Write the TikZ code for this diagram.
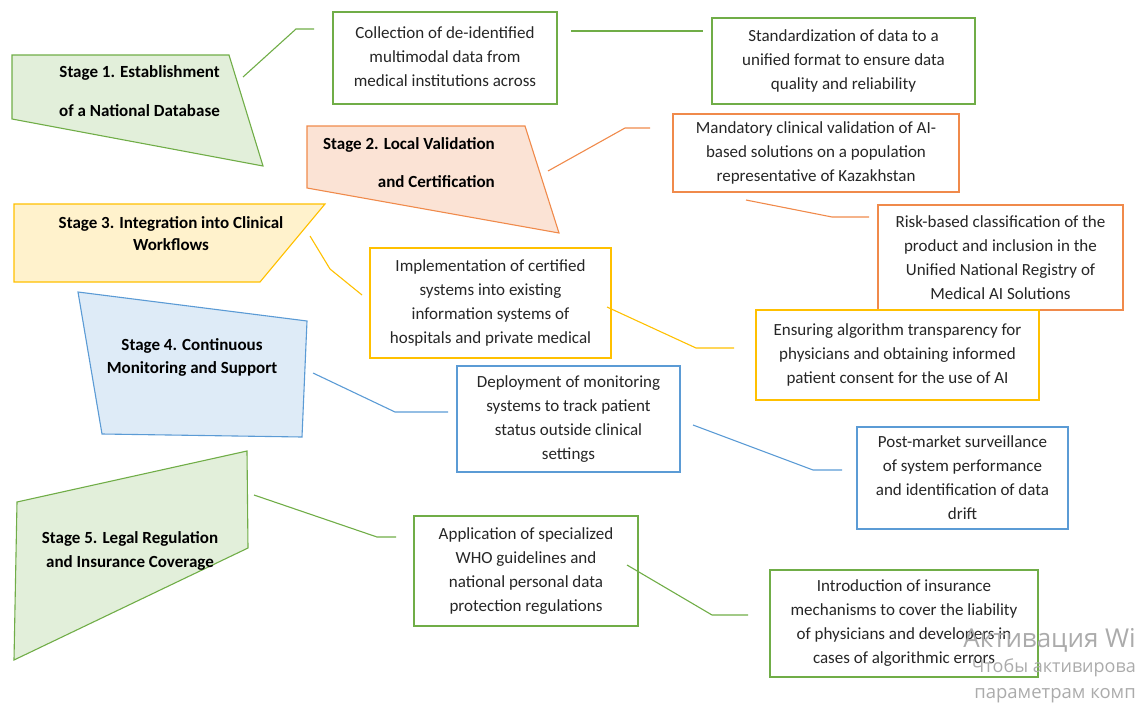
\documentclass[tikz,border=0pt]{standalone}
\usepackage{fontspec}
\setmainfont{Carlito}
\newfontfamily\wmfont{Open Sans}
\definecolor{grn}{HTML}{70AD47}
\definecolor{grnfill}{HTML}{E2EFDA}
\definecolor{org}{HTML}{F08A4B}
\definecolor{orgfill}{HTML}{FBE3D5}
\definecolor{yel}{HTML}{FFC000}
\definecolor{yelfill}{HTML}{FFF2CC}
\definecolor{blu}{HTML}{5B9BD5}
\definecolor{blufill}{HTML}{DEEBF7}
\tikzset{
  stagetext/.style={text=black, inner sep=0pt},
  stageshape/.style={line width=1.1pt, line join=miter},
  infobox/.style={draw, line width=1.1pt, fill=white, inner sep=0pt,
    align=center, text=black!85, font=\fontsize{17}{24}\selectfont},
  link/.style={line width=1.1pt}
}
\begin{document}
\begin{tikzpicture}[x=1pt,y=-1pt]
      \useasboundingbox (0,0) rectangle (1137,704);
      % stages
      \filldraw[stageshape, draw=grn, fill=grnfill] (12,55) -- (229,55) -- (263,166) -- (12,119) -- cycle;
      \filldraw[stageshape, draw=org, fill=orgfill] (307,126) -- (525,126) -- (559,233) -- (307,188) -- cycle;
      \filldraw[stageshape, draw=yel, fill=yelfill] (14,204) -- (325,204) -- (260,282) -- (14,282) -- cycle;
      \filldraw[stageshape, draw=blu, fill=blufill] (78,292) -- (307,321) -- (302,437) -- (102,434) -- cycle;
      \filldraw[stageshape, draw=grn, fill=grnfill] (17,502) -- (247,451) -- (248,548) -- (14,660) -- cycle;
      \path
        (220,91) node[stagetext, anchor=east, align=right, font=\bfseries\fontsize{17}{39}\selectfont] (s1){Stage 1. Establishment\\of a National Database}
        (495,162.5) node[stagetext, anchor=east, align=right, font=\bfseries\fontsize{17}{38}\selectfont] (s2){Stage 2. Local Validation\\and Certification}
        (171,233.5) node[stagetext, align=center, font=\bfseries\fontsize{17}{22}\selectfont] (s3){Stage 3. Integration into Clinical\\Workflows}
        (192,357) node[stagetext, align=center, font=\bfseries\fontsize{17}{23}\selectfont] (s4){Stage 4. Continuous\\Monitoring and Support}
        (130,551) node[stagetext, align=center, font=\bfseries\fontsize{17}{24}\selectfont] (s5){Stage 5. Legal Regulation\\and Insurance Coverage};
      % boxes
      \path
        (445,58) node[infobox, draw=grn, minimum width=224pt, minimum height=92pt] (coll){\raisebox{2.5pt}{Collection of de-identified}\\\raisebox{2.5pt}{multimodal data from}\\\raisebox{2.5pt}{medical institutions across}}
        (843.5,61) node[infobox, draw=grn, minimum width=263pt, minimum height=86pt] (std){Standardization of data to a\\unified format to ensure data\\quality and reliability}
        (816,153) node[infobox, draw=org, minimum width=286pt, minimum height=78pt] (mand){Mandatory clinical validation of AI-\\based solutions on a population\\representative of Kazakhstan}
        (1000.5,257.5) node[infobox, draw=org, minimum width=245pt, minimum height=105pt] (risk){Risk-based classification of the\\product and inclusion in the\\Unified National Registry of\\Medical AI Solutions}
        (490.5,303) node[infobox, draw=yel, minimum width=241pt, minimum height=110pt] (impl){Implementation of certified\\systems into existing\\information systems of\\hospitals and private medical}
        (897.5,355) node[infobox, draw=yel, minimum width=283pt, minimum height=90pt] (ens){Ensuring algorithm transparency for\\physicians and obtaining informed\\patient consent for the use of AI}
        (568.5,419) node[infobox, draw=blu, minimum width=223pt, minimum height=106pt] (dep){Deployment of monitoring\\systems to track patient\\status outside clinical\\settings}
        (962.5,478) node[infobox, draw=blu, minimum width=211pt, minimum height=102pt] (post){Post-market surveillance\\of system performance\\and identification of data\\drift}
        (526,571) node[infobox, draw=grn, minimum width=224pt, minimum height=110pt] (appl){Application of specialized\\WHO guidelines and\\national personal data\\protection regulations}
        (904,623.5) node[infobox, draw=grn, minimum width=268pt, minimum height=107pt] (intro){Introduction of insurance\\mechanisms to cover the liability\\of physicians and developers in\\cases of algorithmic errors};
      \path
        (243,77) coordinate (s1o)   (296,29) coordinate (s1k)   (314,29) coordinate (colli)
        (571,31) coordinate (collo) (703,31) coordinate (stdi)
        (548,171) coordinate (s2o)  (625,128) coordinate (s2k)  (650,128) coordinate (mandi)
        (746,200) coordinate (mando) (832,217) coordinate (mandk) (869,217) coordinate (riski)
        (310,236) coordinate (s3o)  (330,269) coordinate (s3k)  (362,295) coordinate (impli)
        (607,307) coordinate (implo) (696,348) coordinate (implk) (734,348) coordinate (ensi)
        (313,373) coordinate (s4o)  (395,412) coordinate (s4k)  (448,412) coordinate (depi)
        (693,425) coordinate (depo) (813,470) coordinate (depk) (842,470) coordinate (posti)
        (254,495) coordinate (s5o)  (377,537) coordinate (s5k)  (396,537) coordinate (appli)
        (627,565) coordinate (applo) (712,615) coordinate (applk) (748,615) coordinate (introi);
      \begin{scope}[link]
        \draw[grn] (s1o) -- (s1k) -- (colli);
        \draw[grn] (collo) -- (stdi);
        \draw[org] (s2o) -- (s2k) -- (mandi);
        \draw[org] (mando) -- (mandk) -- (riski);
        \draw[yel] (s3o) -- (s3k) -- (impli);
        \draw[yel] (implo) -- (implk) -- (ensi);
        \draw[blu] (s4o) -- (s4k) -- (depi);
        \draw[blu] (depo) -- (depk) -- (posti);
        \draw[grn] (s5o) -- (s5k) -- (appli);
        \draw[grn] (applo) -- (applk) -- (introi);
      \end{scope}
      % overlay text at the lower right
      \path
        (1136,647) node[anchor=base east, inner sep=0pt, text=black!33, font=\wmfont\fontsize{26}{26}\selectfont] (wm1){Активация Wi}
        (1136,672) node[anchor=base east, inner sep=0pt, text=black!33, font=\wmfont\fontsize{18}{18}\selectfont] (wm2){Чтобы активирова}
        (1136,698) node[anchor=base east, inner sep=0pt, text=black!33, font=\wmfont\fontsize{18.5}{18.5}\selectfont] (wm3){параметрам комп};
    \end{tikzpicture}
\end{document}
